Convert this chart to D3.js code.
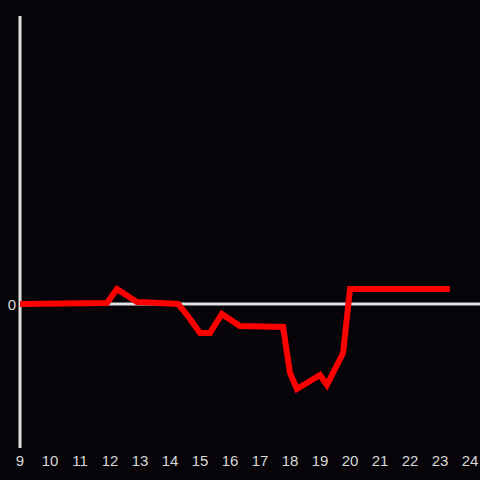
<!DOCTYPE html>
<html>
<head>
<meta charset="utf-8">
<script src="https://cdn.jsdelivr.net/npm/d3@7"></script>
<style>
  html, body { margin: 0; padding: 0; background: #060408; }
  svg { display: block; }
</style>
</head>
<body>
<div id="chart"></div>
<script>
// hours of the day and the value at each point
var hours = [9, 11.9, 12.23, 12.9, 13.67, 14.27, 14.67, 15.0, 15.33, 15.73, 16.33, 17.77, 18.0, 18.23, 19.0, 19.23, 19.77, 20.0, 23.33];
var values = [0, 0.1, 1.5, 0.2, 0.1, 0, -1.5, -2.9, -2.9, -1.0, -2.2, -2.3, -6.9, -8.5, -7.1, -8.1, -4.9, 1.5, 1.5];
var xTicks = d3.range(9, 25);
var yTicks = [0];

var width = 480,
  height = 480;

var xScale = d3.scaleLinear()
  .domain([9, 24])
  .range([20, 470]);

var yScale = d3.scaleLinear()
  .domain([-14.4, 28.8])
  .range([448, 16]);

var svg = d3.select('#chart').append('svg')
  .attr('width', width)
  .attr('height', height);

svg.append('rect')
  .attr('width', width)
  .attr('height', height)
  .attr('fill', '#060408');

// zero line
svg.append('line')
  .attr('x1', xScale(9))
  .attr('x2', width)
  .attr('y1', yScale(0))
  .attr('y2', yScale(0))
  .attr('stroke', '#e0e0e0')
  .attr('stroke-width', 3);

// y axis line
svg.append('line')
  .attr('x1', xScale(9))
  .attr('x2', xScale(9))
  .attr('y1', yScale.range()[1])
  .attr('y2', yScale.range()[0])
  .attr('stroke', '#e0e0e0')
  .attr('stroke-width', 3);

svg.append('g').selectAll('text').data(xTicks)
  .enter().append('text')
    .attr('x', function(d) { return xScale(d); })
    .attr('y', 466)
    .attr('text-anchor', 'middle')
    .attr('fill', '#d8d8d8')
    .style('font', '15px "Liberation Sans", Arial, sans-serif')
    .text(function(d) { return d; });

svg.append('g').selectAll('text').data(yTicks)
  .enter().append('text')
    .attr('x', 16)
    .attr('y', function(d) { return yScale(d) + 5.5; })
    .attr('text-anchor', 'end')
    .attr('fill', '#d8d8d8')
    .style('font', '15px "Liberation Sans", Arial, sans-serif')
    .text(function(d) { return d; });

var line = d3.line()
  .x(function(d, i) { return xScale(hours[i]); })
  .y(function(d) { return yScale(d); });

svg.append('path')
  .datum(values)
  .attr('d', line)
  .attr('fill', 'none')
  .attr('stroke', '#ff0000')
  .attr('stroke-width', 6);
</script>
</body>
</html>
